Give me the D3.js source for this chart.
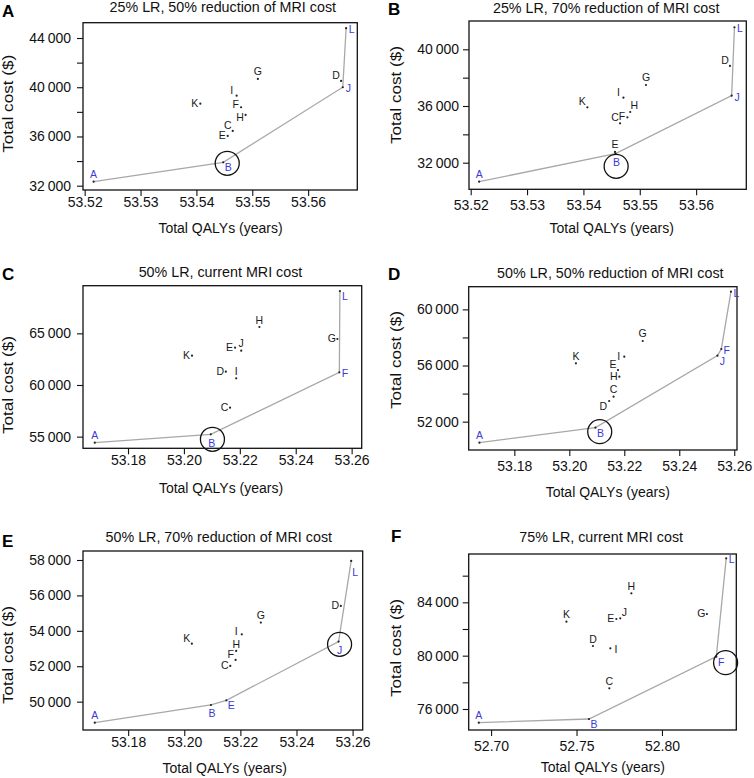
<!DOCTYPE html>
<html><head><meta charset="utf-8">
<script src="https://cdn.jsdelivr.net/npm/d3@7"></script>
<style>
body{margin:0;background:#fff}
svg{display:block}
text{font-family:"Liberation Sans",Arial,Helvetica,sans-serif}
</style>
</head><body>
<svg id="c" width="754" height="778"></svg>
<script>
// ---------------- DATA ----------------
const strategies = ["A","B","C","D","E","F","G","H","I","J","K","L"];
const panelLetters = ["A","B","C","D","E","F"];
const panelTitles = [
  "25% LR, 50% reduction of MRI cost",
  "25% LR, 70% reduction of  MRI cost",
  "50% LR, current MRI cost",
  "50% LR, 50% reduction of MRI cost",
  "50% LR, 70% reduction of MRI cost",
  "75% LR, current MRI cost"
];
const xTitle = "Total QALYs (years)";
const yTitle = "Total cost ($)";

// Panel A
const qalyA = [53.5216,53.5448,53.5465,53.5659,53.5456,53.5480,53.5510,53.5488,53.5472,53.5662,53.5407,53.5668];
const costA = [32325,33902,36447,40512,36041,38374,40675,37748,39317,40000,38667,44797];
// Panel B
const qalyB = [53.5215,53.5457,53.5465,53.5660,53.5456,53.5478,53.5511,53.5483,53.5471,53.5663,53.5407,53.5668];
const costB = [30659,32640,34781,38824,32760,35204,37483,35578,36587,36728,35910,41555];
// Panel C
const qalyC = [53.1681,53.2096,53.2165,53.2150,53.2183,53.2556,53.2549,53.2270,53.2187,53.2205,53.2029,53.2558];
const costC = [54419,55226,57806,61290,63613,61226,64452,65613,60645,63323,62839,69097];
// Panel D
const qalyD = [53.1673,53.2095,53.2161,53.2145,53.2177,53.2553,53.2267,53.2182,53.2200,53.2539,53.2024,53.2588];
const costD = [50504,51572,53781,53473,55682,57178,57748,55207,56632,56703,56157,61264];
// Panel E
const qalyE = [53.1681,53.2095,53.2164,53.2558,53.2150,53.2183,53.2273,53.2185,53.2205,53.2550,53.2027,53.2595];
const costE = [48814,49812,52015,55405,50075,52354,54463,52863,53804,53390,53277,57948];
// Panel F
const qalyF = [52.6928,52.7573,52.7692,52.7596,52.7733,52.8318,52.8263,52.7821,52.7698,52.7756,52.7441,52.8376];
const costF = [74975,75250,77550,80725,82750,79925,83125,84675,80550,82800,82550,87300];

// efficient frontiers and circled strategy
const frontierA = ["A","B","J","L"];
const frontierB = ["A","B","J","L"];
const frontierC = ["A","B","F","L"];
const frontierD = ["A","B","J","F","L"];
const frontierE = ["A","B","E","J","L"];
const frontierF = ["A","B","F","L"];
const circled = ["B","B","B","B","J","F"];

// axis limits and ticks
const xDomains = [[53.5197,53.5688],[53.5197,53.5689],[53.1639,53.2636],[53.1634,53.2610],[53.1639,53.2636],[52.6869,52.8435]];
const yDomains = [[31650,45244],[30123,41997],[53871,69613],[49981,61615],[48399,58508],[74425,87625]];
const xTicks25 = [53.52,53.53,53.54,53.55,53.56];
const xTicks50 = [53.18,53.20,53.22,53.24,53.26];
const xTicks75 = [52.70,52.75,52.80];
const yTicksA = [32000,34000,36000,38000,40000,42000,44000];
const yLabelsA = [32000,36000,40000,44000];
const yTicksB = [32000,34000,36000,38000,40000];
const yLabelsB = [32000,36000,40000];
const yTicksC = [55000,60000,65000];
const yLabelsC = [55000,60000,65000];
const yTicksD = [52000,54000,56000,58000,60000];
const yLabelsD = [52000,56000,60000];
const yTicksE = [50000,52000,54000,56000,58000];
const yLabelsE = [50000,52000,54000,56000,58000];
const yTicksF = [76000,78000,80000,82000,84000,86000];
const yLabelsF = [76000,80000,84000];

// ---------------- LAYOUT / STYLE ----------------
const layout = [
  {box:[83,22.7,357.3,190],  letter:[2,17],   title:[222.8,12.3], xt:[220.5,233],   yt:[13,103.8],  col:0},
  {box:[469,21,746.3,189.3], letter:[388,15], title:[606.2,13.3], xt:[611.7,233.3], yt:[401,95],    col:1},
  {box:[83,285.7,361.7,448.3], letter:[2,280], title:[220.5,276.7], xt:[221,493.3], yt:[13,385],    col:0},
  {box:[468.7,286.7,737,450], letter:[388,280], title:[610.3,277.7], xt:[607.8,496.7], yt:[401,360], col:1},
  {box:[83,551,362.7,730],   letter:[2,547],  title:[218.8,541.7], xt:[224.7,773.3], yt:[13,655],   col:0},
  {box:[468.7,554,736.3,730], letter:[391,542], title:[601.2,541.7], xt:[602.8,771.7], yt:[401,648], col:1}
];
// label placement codes per strategy (A..L)
const labelPos = [
  ["a","br","al","al","l","lu","a","ld","al","r","l","r"],
  ["a","b","al","al","a","l","a","ar","al","r","al","r"],
  ["a","b","l","l","l","r","l","a","a","a","l","br"],
  ["a","br","a","bl","al","r","a","l","l","br","a","r"],
  ["a","b","l","l","br","al","a","a2","lu","b","al","br2"],
  ["a","br","a","a","l","br","l","a","r","ar","a","r"]
];
const circleOffset = [[4,1],[0.6,12.7],[1.7,5],[4.3,4],[1,2.7],[9.3,6]];
const offs = {a:[0,-7.5], a2:[0,-6.5], b:[1,8.5], l:[-5.5,-1], lu:[-5.5,-3.5], ld:[-5.5,2], r:[5.5,1],
              al:[-5,-6], ar:[4,-6.5], bl:[-6,5], br:[5,5], br2:[4,11]};

const BLUE = "#3a3ad8", INK = "#1a1a1a", LINE = "#a8a8a8";

const panels = [
  {q:qalyA,c:costA,fr:frontierA,xt:xTicks25,yt:yTicksA,yl:yLabelsA},
  {q:qalyB,c:costB,fr:frontierB,xt:xTicks25,yt:yTicksB,yl:yLabelsB},
  {q:qalyC,c:costC,fr:frontierC,xt:xTicks50,yt:yTicksC,yl:yLabelsC},
  {q:qalyD,c:costD,fr:frontierD,xt:xTicks50,yt:yTicksD,yl:yLabelsD},
  {q:qalyE,c:costE,fr:frontierE,xt:xTicks50,yt:yTicksE,yl:yLabelsE},
  {q:qalyF,c:costF,fr:frontierF,xt:xTicks75,yt:yTicksF,yl:yLabelsF}
];

const loc = d3.formatLocale({decimal:".", thousands:"\u2009", grouping:[3], currency:["$",""]});
const fmtY = loc.format(",");
const fmtX = d3.format(".2f");

const svg = d3.select("#c");

panels.forEach((p, i) => {
  const L = layout[i];
  const [x0,y0,x1,y1] = L.box;
  const x = d3.scaleLinear().domain(xDomains[i]).range([x0,x1]);
  const y = d3.scaleLinear().domain(yDomains[i]).range([y1,y0]);
  const g = svg.append("g");

  // panel letter
  g.append("text").attr("x",L.letter[0]).attr("y",L.letter[1])
    .attr("font-size",17).attr("font-weight","bold").attr("fill","#000").text(panelLetters[i]);
  // title
  g.append("text").attr("x",L.title[0]).attr("y",L.title[1]).attr("text-anchor","middle")
    .attr("font-size",14.3).attr("fill","#111").text(panelTitles[i]);

  // axes
  const xPad = L.col===0 ? 1 : 5;
  const yPad = L.col===0 ? 6 : 4;
  const xa = g.append("g").attr("transform",`translate(0,${y1})`)
    .call(d3.axisBottom(x).tickValues(p.xt).tickFormat(fmtX).tickSize(6).tickSizeOuter(0).tickPadding(xPad));
  const ya = g.append("g").attr("transform",`translate(${x0},0)`)
    .call(d3.axisLeft(y).tickValues(p.yt).tickFormat(v => p.yl.includes(v) ? fmtY(v) : "").tickSize(6).tickSizeOuter(0).tickPadding(yPad));
  [xa,ya].forEach(a => {
    a.select(".domain").remove();
    a.selectAll("line").attr("stroke","#111").attr("stroke-width",1.1);
    a.selectAll("text").attr("font-size",14).attr("fill","#111").attr("font-family",null);
  });

  // axis titles
  g.append("text").attr("x",L.xt[0]).attr("y",L.xt[1]).attr("text-anchor","middle")
    .attr("font-size",14).attr("fill","#111").text(xTitle);
  g.append("text").attr("transform",`translate(${L.yt[0]},${L.yt[1]}) rotate(-90)`)
    .attr("text-anchor","middle").attr("font-size",14).attr("fill","#111")
    .attr("textLength",98).attr("lengthAdjust","spacingAndGlyphs").text(yTitle);

  // box
  g.append("rect").attr("x",x0).attr("y",y0).attr("width",x1-x0).attr("height",y1-y0)
    .attr("fill","none").attr("stroke","#111").attr("stroke-width",1.3);

  const pts = strategies.map((s,k) => ({s, q:p.q[k], c:p.c[k], pos:labelPos[i][k]}));
  const byS = Object.fromEntries(pts.map(d => [d.s,d]));

  // frontier
  g.append("path").datum(p.fr.map(s => byS[s]))
    .attr("d", d3.line().x(d => x(d.q)).y(d => y(d.c)))
    .attr("fill","none").attr("stroke",LINE).attr("stroke-width",1.3);

  // points
  g.selectAll(".pt").data(pts).join("circle")
    .attr("cx",d => x(d.q)).attr("cy",d => y(d.c)).attr("r",1.1).attr("fill","#222");

  // labels
  g.selectAll(".lb").data(pts).join("text")
    .attr("x",d => x(d.q)+offs[d.pos][0]).attr("y",d => y(d.c)+offs[d.pos][1])
    .attr("text-anchor","middle").attr("dominant-baseline","central")
    .attr("font-size",10.5).attr("fill",d => p.fr.includes(d.s) ? BLUE : INK).text(d => d.s);

  // circled strategy
  const h = byS[circled[i]];
  g.append("circle").attr("cx",x(h.q)+circleOffset[i][0]).attr("cy",y(h.c)+circleOffset[i][1])
    .attr("r",12).attr("fill","none").attr("stroke","#111").attr("stroke-width",1.3);
});
</script>
</body></html>
